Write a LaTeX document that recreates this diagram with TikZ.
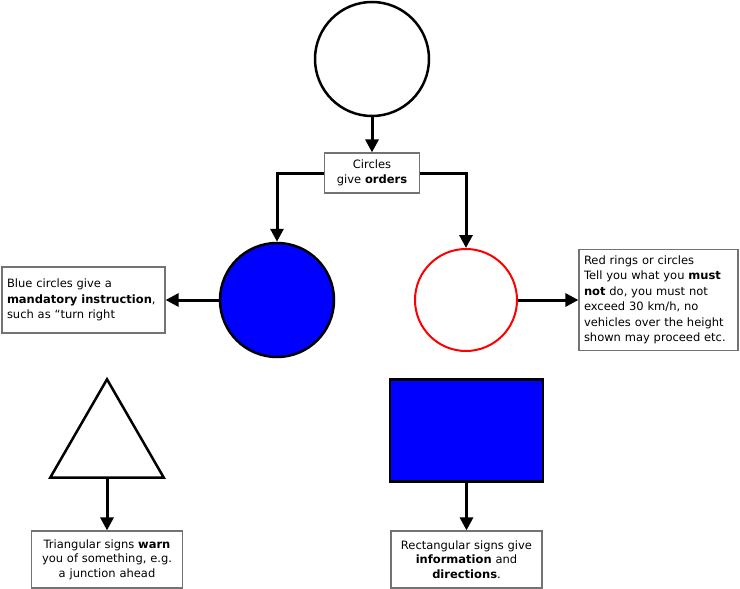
\documentclass[tikz,border=0pt]{standalone}
\usepackage{fontspec}
\setmainfont{DejaVu Sans}
\usetikzlibrary{arrows.meta,shapes.geometric}
\begin{document}
\begin{tikzpicture}
[
    x=1pt, y=-1pt,
    sign/.style={draw=black, line width=2.5pt, inner sep=0pt},
    note/.style={draw=black!55, line width=1.2pt, fill=white, inner xsep=5pt, inner ysep=2pt,
        font=\fontsize{11.5}{15.5}\selectfont},
    link/.style={line width=3pt, -{Triangle[length=13pt,width=13pt]}},
]
\useasboundingbox (0,0) rectangle (740,589);
\node [sign, circle, minimum size=114pt] (top) at (372,59) {};
\node [note, align=center, text width=85pt, minimum height=40pt] (circles) at (372,173)
{Circles\\give \textbf{orders}};
\node [sign, circle, fill=blue, minimum size=114pt] (blue) at (277,300) {};
\node [sign, circle, draw=red, line width=2pt, minimum size=102pt] (red) at (466,300) {};
\node [note, align=left, text width=153pt, minimum height=66pt] (bluenote) at (83.5,300)
{Blue circles give a\\\textbf{mandatory instruction},\\such as “turn right};
\node [note, align=left, text width=149pt, minimum height=101pt] (rednote) at (658.5,300)
{Red rings or circles\\Tell you what you \textbf{must}\\\textbf{not} do, you must not\\exceed 30 km/h, no\\vehicles over the height\\shown may proceed etc.};
\node [sign, regular polygon, regular polygon sides=3, minimum size=131pt] (tri) at (107,444.8) {};
\node [sign, rectangle, fill=blue, minimum width=153pt, minimum height=102pt] (rect) at (466.5,430.5) {};
\node [note, align=center, text width=141pt, minimum height=57pt, font=\fontsize{11.5}{14.5}\selectfont] (trinote) at (107,559.5)
{Triangular signs \textbf{warn}\\you of something, e.g.\\a junction ahead};
\node [note, align=center, text width=141pt, minimum height=57pt, font=\fontsize{11.5}{14.5}\selectfont] (rectnote) at (466.5,559.5)
{Rectangular signs give\\\textbf{information} and\\\textbf{directions}.};
\draw [link] (top.south) -- (circles.north);
\draw [link] (circles.west) -| (blue.north);
\draw [link] (circles.east) -| (red.north);
\draw [link] (blue.west) -- (bluenote.east);
\draw [link] (red.east) -- (rednote.west);
\draw [link] (tri.south) -- (trinote.north);
\draw [link] (rect.south) -- (rectnote.north);
\end{tikzpicture}
\end{document}
